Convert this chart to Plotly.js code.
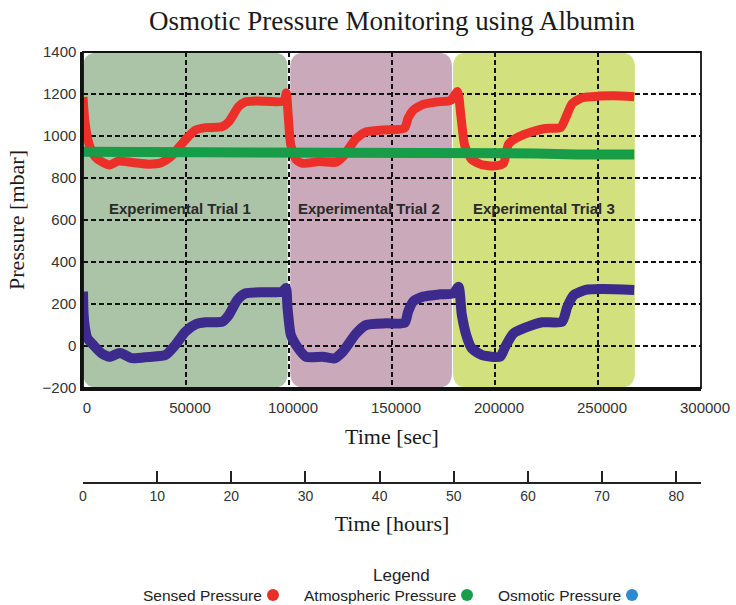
<!DOCTYPE html>
<html>
<head>
<meta charset="utf-8">
<script src="https://cdn.plot.ly/plotly-3.0.1.min.js"></script>
<style>html,body{margin:0;padding:0;background:#fff;}#chart{width:736px;height:605px;}</style>
</head>
<body>
<div id="chart"></div>
<script>
// ---------- data ----------
const sensedTime = [0, 800, 2000, 3500, 6000, 9000, 13000, 17000, 24000, 32000, 38000, 43000, 49500, 54500, 59500, 67500, 70800, 75500, 79000, 85000, 97500, 98700, 99600, 100800, 103400, 106600, 114700, 122900, 126100, 132600, 137500, 145600, 156000, 157800, 160200, 165000, 171500, 178500, 181800, 183400, 185300, 188700, 193600, 200100, 204100, 206600, 211500, 218000, 224500, 231800, 234200, 237500, 242400, 250500, 258000, 267600];
const sensedPressure = [1185, 1080, 1000, 945, 900, 878, 862, 880, 874, 866, 873, 905, 980, 1028, 1040, 1044, 1068, 1140, 1163, 1167, 1166, 1205, 1100, 960, 888, 870, 878, 875, 900, 988, 1020, 1029, 1037, 1084, 1122, 1150, 1162, 1170, 1212, 1100, 955, 888, 863, 858, 870, 962, 996, 1020, 1036, 1040, 1084, 1155, 1182, 1190, 1192, 1187];

const atmTime = [0, 50000, 100000, 150000, 180000, 220000, 240000, 250000, 267600];
const atmPressure = [925, 925, 923, 921, 919, 917, 912, 909, 912];

const osmTime = [0, 300, 900, 2000, 5000, 9000, 13000, 18000, 23700, 31800, 40000, 44800, 49700, 54600, 59500, 67600, 70800, 74900, 79000, 88700, 96800, 98500, 99300, 100900, 103400, 108200, 116300, 122000, 126100, 132600, 137500, 147300, 156200, 157800, 160200, 165100, 173300, 179800, 182300, 183900, 186300, 188700, 193600, 202500, 205000, 209000, 214700, 222900, 232600, 235100, 238300, 244000, 252100, 267600];
const osmPressure = [259, 150, 90, 40, 5, -35, -51, -33, -58, -52, -43, 5, 68, 103, 113, 116, 148, 219, 251, 256, 259, 276, 180, 52, 5, -51, -51, -59, -27, 60, 100, 108, 111, 163, 211, 235, 246, 251, 282, 148, 44, -11, -43, -51, -3, 60, 87, 113, 116, 187, 243, 267, 271, 267];

const trialNames = ['Experimental Trial 1', 'Experimental Trial 2', 'Experimental Trial 3'];
const trialStart = [0, 100600, 179600];
const trialEnd = [99300, 179100, 267900];

const seriesNames = ['Sensed Pressure', 'Atmospheric Pressure', 'Osmotic Pressure'];

// ---------- geometry helpers ----------
const W = 736, H = 605;
const M = {l: 83, r: 35, t: 52, b: 5};
const fx = px => (px - M.l) / (W - M.l - M.r);
const fy = py => (H - M.b - py) / (H - M.t - M.b);
const yDomainBottom = fy(388);
const SEC_PER_HOUR = 3600;
const xMax = 300000;

// ---------- traces ----------
const traces = [
  {x: sensedTime, y: sensedPressure, name: seriesNames[0], type: 'scatter', mode: 'lines',
   line: {color: '#ec2f28', width: 9, shape: 'spline', smoothing: 0.6}, showlegend: false, hoverinfo: 'x+y'},
  {x: osmTime, y: osmPressure, name: seriesNames[2], type: 'scatter', mode: 'lines',
   line: {color: '#3c2a8c', width: 10, shape: 'spline', smoothing: 0.6}, showlegend: false, hoverinfo: 'x+y'},
  {x: atmTime, y: atmPressure, name: seriesNames[1], type: 'scatter', mode: 'lines',
   line: {color: '#179c48', width: 10}, showlegend: false, hoverinfo: 'x+y'},
  {x: [0, xMax / SEC_PER_HOUR], y: [null, null], xaxis: 'x2', yaxis: 'y', type: 'scatter', mode: 'lines',
   showlegend: false, hoverinfo: 'skip'}
];

// ---------- shapes ----------
const trialColors = ['#abc3a6', '#caa9bb', '#d3e07e'];
const rx = 7300, ry = 70;
function roundRect(x0, x1, y0, y1) {
  return `M ${x0 + rx},${y0} L ${x1 - rx},${y0} Q ${x1},${y0} ${x1},${y0 + ry} L ${x1},${y1 - ry} Q ${x1},${y1} ${x1 - rx},${y1} L ${x0 + rx},${y1} Q ${x0},${y1} ${x0},${y1 - ry} L ${x0},${y0 + ry} Q ${x0},${y0} ${x0 + rx},${y0} Z`;
}
const shapes = [];
trialStart.forEach((s, i) => {
  shapes.push({type: 'path', xref: 'x', yref: 'y', path: roundRect(s, trialEnd[i], -198, 1398),
    fillcolor: trialColors[i], line: {width: 0}, layer: 'below'});
});
// plot frame (thin top/right)
shapes.push({type: 'rect', xref: 'x domain', yref: 'y domain', x0: 0, x1: 1, y0: 0, y1: 1,
  line: {color: '#111', width: 1.8}, fillcolor: 'rgba(0,0,0,0)', layer: 'above'});
// end tick of hours axis
shapes.push({type: 'line', xref: 'x2', yref: 'paper', x0: xMax / SEC_PER_HOUR + 0.3, x1: xMax / SEC_PER_HOUR + 0.3,
  y0: fy(482.7), y1: fy(471.5), line: {color: '#222', width: 2}});

// ---------- custom legend (text then dot) ----------
const legendColors = ['#e8302a', '#1b9e4b', '#2b8bd0'];
const legendDotX = [273, 467, 632];
const legendY = 595;
const annotations = [];
annotations.push({xref: 'paper', yref: 'paper', x: fx(401), y: fy(575), text: 'Legend', showarrow: false,
  xanchor: 'center', yanchor: 'middle', font: {family: 'Liberation Sans, Arial, sans-serif', size: 17, color: '#222'}});
seriesNames.forEach((n, i) => {
  annotations.push({xref: 'paper', yref: 'paper', x: fx(legendDotX[i] - 9), y: fy(legendY), text: n, showarrow: false,
    xanchor: 'right', yanchor: 'middle', font: {family: 'Liberation Sans, Arial, sans-serif', size: 15.5, color: '#222'}});
  shapes.push({type: 'circle', xref: 'paper', yref: 'paper', xsizemode: 'pixel', ysizemode: 'pixel',
    xanchor: fx(legendDotX[i]), yanchor: fy(legendY), x0: -6, x1: 6, y0: -6, y1: 6,
    fillcolor: legendColors[i], line: {width: 0}});
});
// trial labels
const trialLabelX = [47300, 138800, 224000];
trialNames.forEach((t, i) => {
  annotations.push({xref: 'x', yref: 'y', x: trialLabelX[i], y: 655, text: '<b>' + t + '</b>', showarrow: false,
    xanchor: 'center', yanchor: 'middle', font: {family: 'Liberation Sans, Arial, sans-serif', size: 15, color: '#2a2a2a'}});
});

const serif = 'Liberation Serif, Times New Roman, serif';
const sans = 'Liberation Sans, Arial, sans-serif';

const layout = {
  width: W, height: H,
  margin: M,
  paper_bgcolor: '#ffffff', plot_bgcolor: '#ffffff',
  showlegend: false,
  title: {text: 'Osmotic Pressure Monitoring using Albumin', font: {family: serif, size: 27, color: '#1a1a1a'},
    x: 0.5, xref: 'paper', xanchor: 'center', y: 1 - 21 / H, yref: 'container', yanchor: 'middle'},
  xaxis: {
    range: [0, xMax], dtick: 50000, tickformat: 'd', domain: [0, 1],
    showgrid: true, gridcolor: '#111', griddash: '5px,3px', gridwidth: 1.8,
    zeroline: false, showline: true, linecolor: '#111', linewidth: 2.6,
    ticks: '', tickfont: {family: sans, size: 15, color: '#333'}, ticklabelshift: 4, ticklabelstandoff: 4,
    title: {text: 'Time [sec]', font: {family: serif, size: 22, color: '#1a1a1a'}, standoff: 14}
  },
  xaxis2: {
    overlaying: 'x', anchor: 'free', position: fy(482.7), side: 'bottom',
    range: [0, xMax / SEC_PER_HOUR], dtick: 10, showgrid: false, zeroline: false,
    showline: true, linecolor: '#222', linewidth: 2,
    ticks: 'inside', ticklen: 11, tickwidth: 2, tickcolor: '#222',
    tickfont: {family: sans, size: 14, color: '#333'},
    title: {text: 'Time [hours]', font: {family: serif, size: 22, color: '#1a1a1a'}, standoff: 12}
  },
  yaxis: {
    domain: [yDomainBottom, 1], range: [-200, 1400], dtick: 200,
    showgrid: true, gridcolor: '#111', griddash: '5px,3px', gridwidth: 1.8,
    zeroline: false, showline: true, linecolor: '#111', linewidth: 2.6,
    ticks: '', tickfont: {family: sans, size: 15, color: '#333'}, ticklabelstandoff: 1,
    title: {text: 'Pressure [mbar]', font: {family: serif, size: 22, color: '#1a1a1a'}, standoff: 12}
  },
  shapes: shapes,
  annotations: annotations
};

Plotly.newPlot('chart', traces, layout, {displayModeBar: false, staticPlot: true});
</script>
</body>
</html>
